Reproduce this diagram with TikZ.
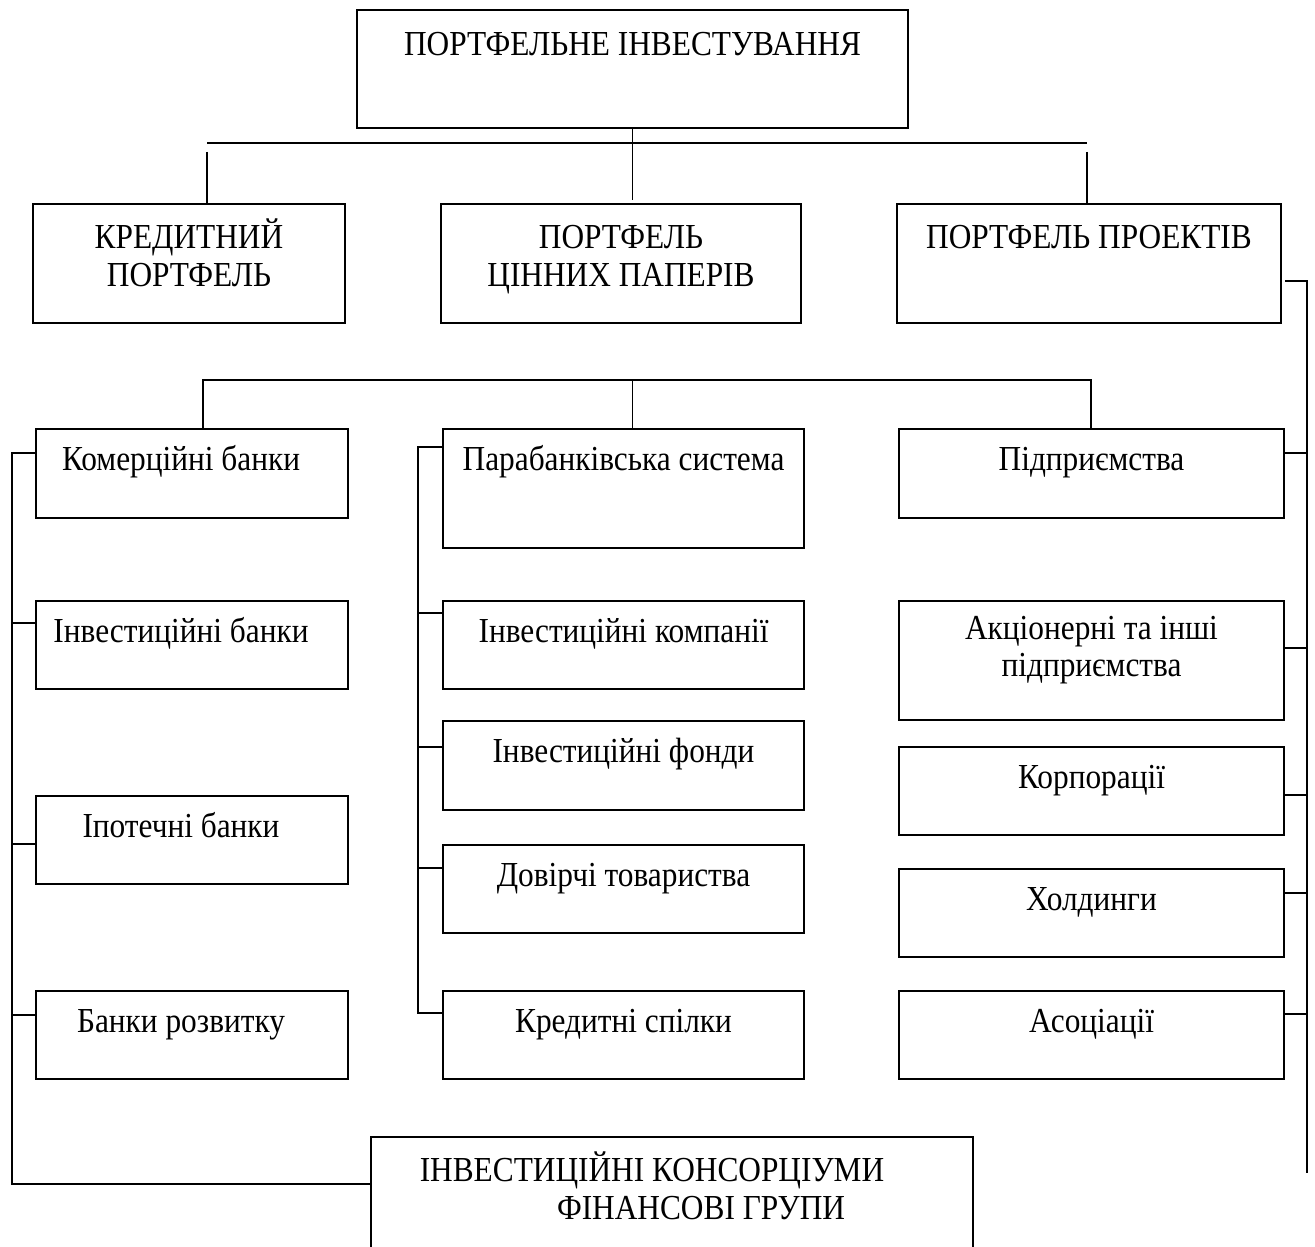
\documentclass[tikz,border=0pt]{standalone}
\usepackage{fontspec}
\setmainfont{Liberation Serif}
\newlength\pxu
\setlength\pxu{0.0157cm}
\tikzset{
    box/.style = {
        draw=black,
        line width=0.9pt,
        anchor=north west,
        inner sep=0pt
    },
    conn/.style = {
        draw=black,
        line width=0.7pt
    },
    txt/.style = {
        anchor=north,
        inner sep=0pt,
        align=center,
        yshift=-15.5\pxu,
        yscale=1.12,
        transform shape,
        font=\fontsize{14}{15}\selectfont,
        execute at begin node=\strut
    },
    lefttxt/.style = {
        txt,
        xshift=-11\pxu
    },
}
\begin{document}
\begin{tikzpicture}[x=\pxu, y=-\pxu]
                \useasboundingbox (0,0) rectangle (1315,1247);
                \clip (0,0) rectangle (1315,1247);

                \node[box, minimum width=551\pxu, minimum height=118\pxu, label={[txt, yshift=-4\pxu]north:ПОРТФЕЛЬНЕ ІНВЕСТУВАННЯ}] (pi) at (356,9) {};

                \node[box, minimum width=312\pxu, minimum height=119\pxu, label={[txt]north:{КРЕДИТНИЙ\\ПОРТФЕЛЬ}}] (kp) at (32,203) {};
                \node[box, minimum width=360\pxu, minimum height=119\pxu, label={[txt, yshift=-6\pxu]north:{ПОРТФЕЛЬ\\ЦІННИХ ПАПЕРІВ}}] (pcp) at (440,203) {};
                \node[box, minimum width=384\pxu, minimum height=119\pxu, label={[txt, yshift=-3\pxu]north:ПОРТФЕЛЬ ПРОЕКТІВ}] (pp) at (896,203) {};

                \node[box, minimum width=312\pxu, minimum height=89\pxu, label={[lefttxt]north:Комерційні банки}] (kb) at (35,428) {};
                \node[box, minimum width=312\pxu, minimum height=88\pxu, label={[lefttxt]north:Інвестиційні банки}] (ib) at (35,600) {};
                \node[box, minimum width=312\pxu, minimum height=88\pxu, label={[lefttxt]north:Іпотечні банки}] (ipb) at (35,795) {};
                \node[box, minimum width=312\pxu, minimum height=88\pxu, label={[lefttxt]north:Банки розвитку}] (br) at (35,990) {};

                \node[box, minimum width=361\pxu, minimum height=119\pxu, label={[txt]north:Парабанківська система}] (pbs) at (442,428) {};
                \node[box, minimum width=361\pxu, minimum height=88\pxu, label={[txt]north:Інвестиційні компанії}] (ik) at (442,600) {};
                \node[box, minimum width=361\pxu, minimum height=89\pxu, label={[txt]north:Інвестиційні фонди}] (inf) at (442,720) {};
                \node[box, minimum width=361\pxu, minimum height=88\pxu, label={[txt]north:Довірчі товариства}] (dt) at (442,844) {};
                \node[box, minimum width=361\pxu, minimum height=88\pxu, label={[txt]north:Кредитні спілки}] (ks) at (442,990) {};

                \node[box, minimum width=385\pxu, minimum height=89\pxu, label={[txt]north:Підприємства}] (pd) at (898,428) {};
                \node[box, minimum width=385\pxu, minimum height=119\pxu, label={[txt]north:{Акціонерні та інші\\підприємства}}] (ak) at (898,600) {};
                \node[box, minimum width=385\pxu, minimum height=88\pxu, label={[txt]north:Корпорації}] (kor) at (898,746) {};
                \node[box, minimum width=385\pxu, minimum height=88\pxu, label={[txt]north:Холдинги}] (hol) at (898,868) {};
                \node[box, minimum width=385\pxu, minimum height=88\pxu, label={[txt]north:Асоціації}] (as) at (898,990) {};

                \node[box, minimum width=602\pxu, minimum height=150\pxu, label={[txt, xshift=-20\pxu]north:{ІНВЕСТИЦІЙНІ КОНСОРЦІУМИ\\\hspace*{98\pxu}ФІНАНСОВІ ГРУПИ}}] (fg) at (370,1136) {};

                \coordinate (b1l) at (207,143);
                \coordinate (b1r) at (1087,143);
                \coordinate (b2l) at (203,380);
                \coordinate (b2r) at (1091,380);
                \coordinate (lt) at (12,453);
                \coordinate (lb) at (12,1184);
                \coordinate (mt) at (418,447);
                \coordinate (mb) at (418,1013);
                \coordinate (rt) at (1307,281);
                \coordinate (rb) at (1307,1173);

                \draw[conn] (pi.south) -- ([yshift=3\pxu]pi.south |- pcp.north);
                \draw[conn] (b1l) -- (b1r);
                \draw[conn] ([yshift=-9\pxu]b1l) -- (b1l |- kp.north);
                \draw[conn] ([yshift=-9\pxu]b1r) -- (b1r |- pp.north);

                \draw[conn] (b2l |- kb.north) -- (b2l) -- (b2r) -- (b2r |- pd.north);
                \draw[conn] (pi.south |- b2l) -- (pi.south |- pbs.north);

                \draw[conn] (kb.west |- lt) -- (lt) -- (lb) -- (lb -| fg.west);
                \foreach \n/\y in {ib/623, ipb/844, br/1015}
                    \draw[conn] (\n.west |- 0,\y) -- (lt |- 0,\y);

                \draw[conn] (pbs.west |- mt) -- (mt) -- (mb) -- (ks.west |- mb);
                \foreach \n/\y in {ik/613, inf/747, dt/868}
                    \draw[conn] (\n.west |- 0,\y) -- (mt |- 0,\y);

                \draw[conn] ([xshift=3\pxu]pp.east |- rt) -- (rt) -- (rb);
                \foreach \n/\y in {pd/453, ak/648, kor/795, hol/893, as/1014}
                    \draw[conn] (\n.east |- 0,\y) -- (rt |- 0,\y);
\end{tikzpicture}
\end{document}
